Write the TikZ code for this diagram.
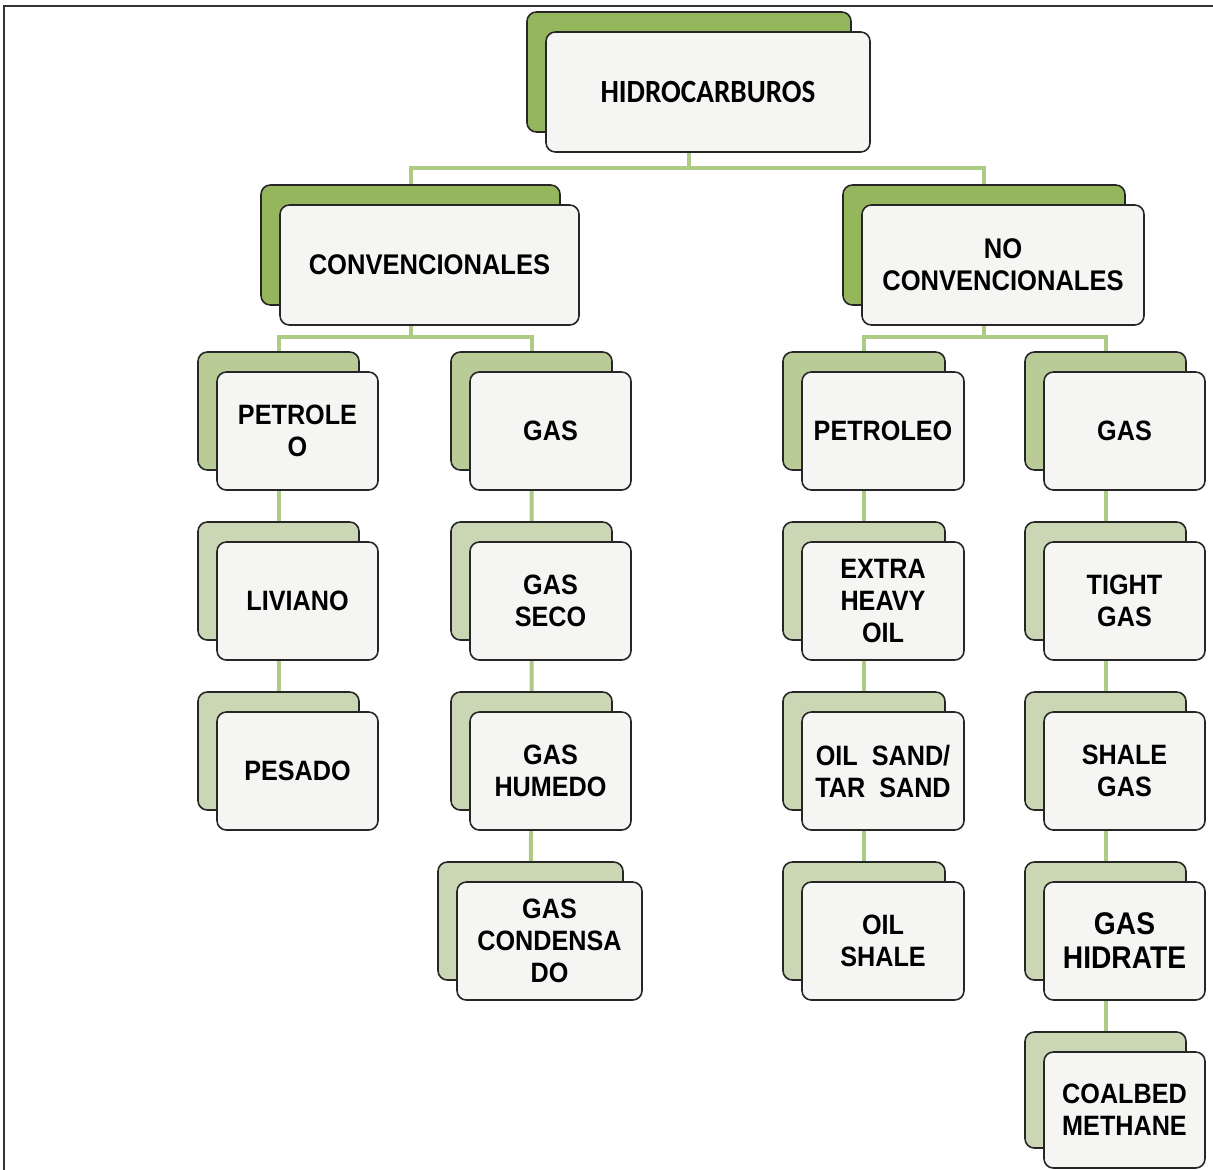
\documentclass[tikz,border=0pt]{standalone}
\usepackage{fontspec}
\usetikzlibrary{calc,backgrounds}
\newfontfamily\arlfont{Liberation Sans}[FakeStretch=0.9]
\newfontfamily\hidfont{Carlito}[FakeStretch=0.9]
\definecolor{topgreen}{HTML}{96B65E}
\definecolor{midgreen}{HTML}{B9CC98}
\definecolor{lowgreen}{HTML}{CAD6B4}
\definecolor{boxfill}{HTML}{F5F6F3}
\definecolor{conngreen}{HTML}{AECB85}
\tikzset{
  backbox/.style={draw=black!85, line width=1.2pt, rounded corners=7pt, inner sep=0pt},
  frontbox/.style={draw=black!85, line width=1.2pt, rounded corners=7pt, fill=boxfill, inner sep=0pt, align=center,
    font=\arlfont\bfseries\fontsize{21}{24}\selectfont},
  bigtxt/.style={font=\arlfont\bfseries\fontsize{21.3}{24}\selectfont},
  hidtxt/.style={font=\arlfont\bfseries\fontsize{23.5}{25.5}\selectfont},
  toptxt/.style={font=\hidfont\bfseries\fontsize{24.3}{28}\selectfont},
  conn/.style={draw=conngreen, line width=3pt},
  frame/.style={draw=black!80, line width=1.5pt}
}
\newcommand\duo[8][]{%
  \node[backbox, fill=#7, minimum width={#5*0.75pt}, minimum height={#6*0.75pt}] (#2b) at ({#3+#5/2},{#4+#6/2}) {};
  \node[frontbox, minimum width={#5*0.75pt}, minimum height={#6*0.75pt}, #1] (#2) at ({#3+#5/2+19},{#4+#6/2+20}) {#8};
}
\begin{document}
\begin{tikzpicture}[x=0.75pt, y=-0.75pt]
\useasboundingbox (0,0) rectangle (1213,1170);
% level 0 and 1
\duo[toptxt]{hid}{527}{12}{324}{120}{topgreen}{HIDROCARBUROS}
\duo[bigtxt]{conv}{261}{185}{299}{120}{topgreen}{CONVENCIONALES}
\duo[bigtxt]{ncv}{843}{185}{282}{120}{topgreen}{NO\\CONVENCIONALES}
% convencionales
\duo{pc}{198}{352}{161}{118}{midgreen}{PETROLE\\O}
\duo{liv}{198}{522}{161}{118}{lowgreen}{LIVIANO}
\duo{pes}{198}{692}{161}{118}{lowgreen}{PESADO}
\duo{gc}{451}{352}{161}{118}{midgreen}{GAS}
\duo{gseco}{451}{522}{161}{118}{lowgreen}{GAS\\SECO}
\duo{ghum}{451}{692}{161}{118}{lowgreen}{GAS\\HUMEDO}
\duo{gcond}{438}{862}{185}{118}{lowgreen}{GAS\\CONDENSA\\DO}
% no convencionales
\duo{pn}{783}{352}{162}{118}{midgreen}{PETROLEO}
\duo{xho}{783}{522}{162}{118}{lowgreen}{EXTRA\\HEAVY\\OIL}
\duo{osand}{783}{692}{162}{118}{lowgreen}{OIL\ \ SAND/\\TAR\ \ SAND}
\duo{oshale}{783}{862}{162}{118}{lowgreen}{OIL\\SHALE}
\duo{gn}{1025}{352}{161}{118}{midgreen}{GAS}
\duo{tight}{1025}{522}{161}{118}{lowgreen}{TIGHT\\GAS}
\duo{shale}{1025}{692}{161}{118}{lowgreen}{SHALE\\GAS}
\duo[hidtxt]{hidr}{1025}{862}{161}{118}{lowgreen}{GAS\\HIDRATE}
\duo{cbm}{1025}{1032}{161}{116}{lowgreen}{COALBED\\METHANE}
% background and connectors
\begin{scope}[on background layer]
  \fill[white] (0,0) rectangle (1213,1170);
  \draw[frame] (4,1172) -- (4,6) -- (1215,6);
  \coordinate (m1) at ($(hid.south)!0.5!(convb.north)$);
  \draw[conn] (hidb.south) -- (hidb.south|-m1) -| (convb.north);
  \draw[conn] (hidb.south|-m1) -| (ncvb.north);
  \coordinate (m2) at ($(conv.south)!0.45!(pcb.north)$);
  \draw[conn] (convb.south) -- (convb.south|-m2) -| (pcb.north);
  \draw[conn] (convb.south|-m2) -| (gcb.north);
  \coordinate (m3) at ($(ncv.south)!0.45!(pnb.north)$);
  \draw[conn] (ncvb.south) -- (ncvb.south|-m3) -| (pnb.north);
  \draw[conn] (ncvb.south|-m3) -| (gnb.north);
  \draw[conn] (pcb.center) -- (livb.center) -- (pesb.center);
  \draw[conn] (gcb.center) -- (gsecob.center) -- (ghumb.center) -- (gcondb.center);
  \draw[conn] (pnb.center) -- (xhob.center) -- (osandb.center) -- (oshaleb.center);
  \draw[conn] (gnb.center) -- (tightb.center) -- (shaleb.center) -- (hidrb.center) -- (cbmb.center);
\end{scope}
\end{tikzpicture}
\end{document}
